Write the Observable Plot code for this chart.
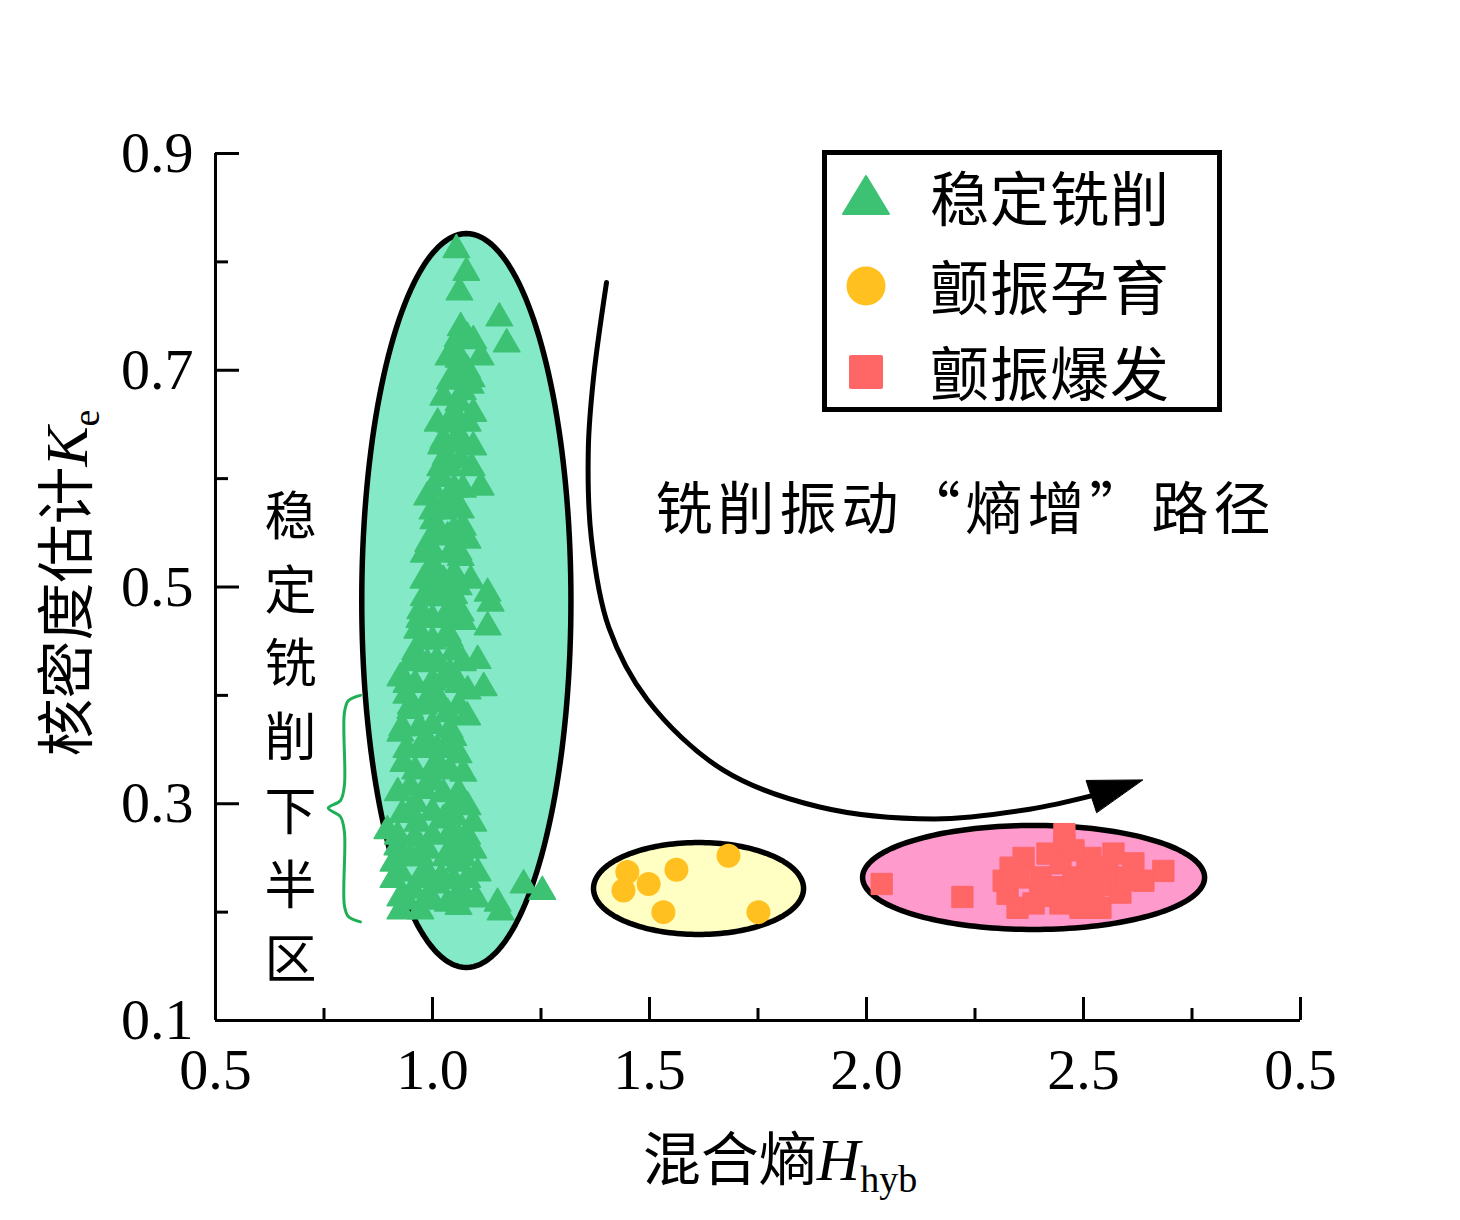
<!DOCTYPE html>
<html><head><meta charset="utf-8">
<script src="https://cdn.jsdelivr.net/npm/d3@7"></script>
<script src="https://cdn.jsdelivr.net/npm/@observablehq/plot@0.6"></script>
<style>
body{margin:0;background:#fff;}
#wrap{position:relative;width:1460px;height:1220px;background:#fff;}
#wrap svg{position:absolute;left:0;top:0;}
.cjk{font-family:"Noto Sans CJK SC",sans-serif;}
.ser{font-family:"Liberation Serif","Times New Roman",serif;}
#legend{position:absolute;left:822px;top:150px;width:400px;height:262px;box-sizing:border-box;border:5px solid #000;background:#fff;}
#legend .sym{position:absolute;left:14px;width:50px;height:50px;}
#legend .lab{position:absolute;left:103px;font-size:59px;line-height:1;transform:translateY(-50%);white-space:nowrap;color:#000;letter-spacing:1px;}
.title{position:absolute;white-space:nowrap;color:#000;font-size:58px;line-height:1;}
.title .it{font-family:"Liberation Serif",serif;font-style:italic;font-size:60px;}
.title .sub{font-family:"Liberation Serif",serif;font-size:38px;position:relative;top:12px;}
</style>
</head><body>
<div id="wrap"></div>
<script>
// ---------- data ----------
const xTicks = [0.5, 1.0, 1.5, 2.0, 2.5, 3.0];
const xTickLabels = ["0.5", "1.0", "1.5", "2.0", "2.5", "0.5"];
const xMinorTicks = [0.75, 1.25, 1.75, 2.25, 2.75];
const yTicks = [0.1, 0.3, 0.5, 0.7, 0.9];
const yTickLabels = ["0.1", "0.3", "0.5", "0.7", "0.9"];
const yMinorTicks = [0.2, 0.4, 0.6, 0.8];

const seriesNames = ["稳定铣削", "颤振孕育", "颤振爆发"];

// 稳定铣削 (Hhyb, Ke)
const stable = [
[1.055,0.811],[1.078,0.790],[1.062,0.772],[1.154,0.748],[1.171,0.724],[1.065,0.739],[1.058,0.729],[1.094,0.727],
[1.037,0.712],[1.111,0.712],[1.065,0.703],[1.088,0.686],[1.025,0.675],[1.094,0.660],[1.012,0.651],[1.081,0.651],
[1.025,0.635],[1.094,0.629],[1.018,0.610],[1.065,0.617],[1.111,0.592],[0.988,0.583],[1.041,0.586],[1.065,0.571],
[1.002,0.561],[1.035,0.546],[1.081,0.543],[1.002,0.531],[1.065,0.527],[0.979,0.506],[1.025,0.506],[1.088,0.506],
[1.127,0.494],[1.025,0.494],[1.134,0.485],[0.972,0.478],[1.065,0.476],[1.127,0.463],[0.965,0.460],[1.035,0.457],
[1.104,0.432],[0.988,0.429],[0.926,0.416],[1.025,0.414],[1.118,0.407],[1.081,0.404],[0.949,0.386],[1.035,0.383],
[0.926,0.365],[1.048,0.361],[0.988,0.358],[0.933,0.337],[1.018,0.333],[1.071,0.328],[0.949,0.315],[1.025,0.309],
[1.081,0.297],[0.896,0.275],[0.965,0.282],[1.025,0.285],[1.094,0.282],[0.919,0.260],[0.988,0.257],[1.048,0.260],
[1.094,0.257],[0.926,0.236],[0.988,0.236],[1.104,0.236],[1.048,0.229],[0.926,0.213],[0.988,0.213],[1.071,0.217],
[0.926,0.201],[0.972,0.201],[1.035,0.208],[1.150,0.208],[1.210,0.225],[1.253,0.219],[1.157,0.200],
[0.950,0.250],[1.000,0.270],[1.060,0.245],[0.960,0.300],[1.000,0.320],[1.050,0.300],[0.940,0.350],[0.970,0.370],
[1.010,0.350],[0.940,0.400],[0.980,0.390],[1.000,0.400],[1.040,0.420],[1.060,0.390],[0.960,0.440],[1.000,0.450],
[1.050,0.440],[1.000,0.470],[1.040,0.480],[0.980,0.490],[1.060,0.500],[1.000,0.520],[1.040,0.530],[1.020,0.570],
[1.050,0.590],[1.030,0.620],[1.060,0.640],[1.050,0.660],[1.040,0.690],[1.070,0.680],[1.050,0.720],[1.080,0.700],
[0.955,0.220],[1.010,0.225],[1.060,0.205],[0.910,0.245],[1.080,0.270],[0.930,0.290],[1.060,0.345],[1.080,0.380],
[0.960,0.410],[1.020,0.600],[1.090,0.610],[1.070,0.555],[0.990,0.540],
[0.940,0.210],[1.000,0.210],[1.050,0.210],[1.100,0.212],[0.910,0.230],[0.970,0.230],[1.020,0.232],[1.080,0.230],
[0.930,0.250],[0.970,0.252],[1.030,0.250],[1.070,0.250],[0.920,0.270],[0.960,0.268],[1.040,0.272],[1.060,0.268],
[0.950,0.290],[1.000,0.292],[1.050,0.288],[0.920,0.310],[0.980,0.312],[1.060,0.310],[0.960,0.330],[1.000,0.332],
[1.040,0.330],[0.970,0.350],[1.030,0.352],[0.930,0.370],[1.000,0.372],[1.040,0.368],[0.950,0.390],[1.020,0.392],
[0.940,0.410],[1.000,0.412],[1.060,0.410],[0.950,0.430],[1.010,0.432],[1.070,0.430],[0.980,0.450],[1.040,0.452],
[0.970,0.470],[1.030,0.470],[1.070,0.468],[1.000,0.490],[1.050,0.492],[1.000,0.510],[1.050,0.512],[0.980,0.530],
[1.060,0.532],[1.010,0.550],[1.050,0.552],[1.000,0.570],[1.040,0.572],[1.000,0.590],[1.070,0.590],[1.040,0.610],
[1.020,0.630],[1.070,0.632],[1.040,0.650],[1.060,0.670],[1.060,0.690],[1.090,0.692],[1.060,0.710],[1.080,0.730]
];
// 颤振孕育
const incubation = [
[1.449,0.237],[1.440,0.220],[1.498,0.226],[1.562,0.239],[1.682,0.252],[1.532,0.200],[1.751,0.200]
];
// 颤振爆发
const outbreak = [
[2.035,0.226],[2.221,0.214],[2.456,0.272],[2.456,0.260],[2.332,0.241],[2.362,0.250],[2.325,0.217],[2.348,0.204],
[2.385,0.208],[2.401,0.232],[2.447,0.245],[2.463,0.214],[2.493,0.204],[2.516,0.250],[2.523,0.223],[2.569,0.254],
[2.578,0.232],[2.615,0.245],[2.638,0.229],[2.684,0.238],[2.431,0.223],[2.477,0.232],[2.539,0.204],[2.585,0.218],
[2.417,0.254],[2.316,0.229],[2.447,0.208],[2.509,0.238],[2.555,0.241],[2.477,0.257],[2.350,0.232],[2.400,0.215],
[2.500,0.220],[2.540,0.225],[2.600,0.230]
];

// region ellipses: centre x, centre y, half-width, half-height (data units)
const ellipseCX = [1.078, 1.613, 2.385];
const ellipseCY = [0.4875, 0.2218, 0.232];
const ellipseRX = [0.241, 0.242, 0.394];
const ellipseRY = [0.3386, 0.0424, 0.048];

// "entropy increase" path and its arrow head
const pathX = [1.401, 1.371, 1.359, 1.366, 1.406, 1.495, 1.670, 1.892, 2.157, 2.376, 2.525];
const pathY = [0.781, 0.693, 0.627, 0.545, 0.463, 0.396, 0.331, 0.297, 0.286, 0.295, 0.308];
const headX = [2.636, 2.506, 2.530];
const headY = [0.322, 0.3215, 0.292];

// brace beside the lower half
const braceX = [0.834, 0.806, 0.797, 0.797, 0.788, 0.760, 0.788, 0.797, 0.797, 0.806, 0.834];
const braceY = [0.400, 0.395, 0.384, 0.317, 0.303, 0.296, 0.288, 0.274, 0.206, 0.196, 0.191];

const pathLabel = "铣削振动“熵增”路径";
const sideLabel = "稳定铣削下半区";

// ---------- styles ----------
const colors = {stable: "#3DC274", incubation: "#FFC020", outbreak: "#FF6666"};
const ellipseFill = ["#84E9C7", "#FFFFC4", "#FF9ACD"];
const cjk = "Noto Sans CJK SC";
const serif = "Liberation Serif";

const W = 1460, H = 1220, mt = 153, mr = 160, mb = 200, ml = 215;
const plotW = W - ml - mr, plotH = H - mt - mb;

function ellipsePoints(i) {
  const pts = [];
  for (let k = 0; k < 180; k++) {
    const t = (k / 180) * 2 * Math.PI;
    pts.push({x: ellipseCX[i] + ellipseRX[i] * Math.cos(t), y: ellipseCY[i] + ellipseRY[i] * Math.sin(t)});
  }
  return pts;
}
const toXY = (a) => a.map(([x, y]) => ({x, y}));
const pathPts = pathX.map((x, i) => ({x, y: pathY[i]}));
const headPts = headX.map((x, i) => ({x, y: headY[i]}));
const bracePts = braceX.map((x, i) => ({x, y: braceY[i]}));

const chart = Plot.plot({
  width: W, height: H,
  marginTop: mt, marginRight: mr, marginBottom: mb, marginLeft: ml,
  x: {domain: [0.5, 3.0], axis: null},
  y: {domain: [0.1, 0.9], axis: null},
  style: {background: "transparent", overflow: "visible"},
  marks: [
    ...[0, 1, 2].map((i) => Plot.line(ellipsePoints(i), {x: "x", y: "y", curve: "linear-closed", fill: ellipseFill[i], stroke: "#000", strokeWidth: 5.5})),
    Plot.line(pathPts, {x: "x", y: "y", curve: "catmull-rom", stroke: "#000", strokeWidth: 5}),
    Plot.line(headPts, {x: "x", y: "y", curve: "linear-closed", fill: "#000", stroke: "#000", strokeWidth: 1}),
    Plot.dot(toXY(stable), {x: "x", y: "y", symbol: "triangle", r: 9.8, fill: colors.stable, stroke: colors.stable, strokeWidth: 1.5, strokeLinejoin: "round"}),
    Plot.dot(toXY(incubation), {x: "x", y: "y", symbol: "circle", r: 12, fill: colors.incubation}),
    Plot.dot(toXY(outbreak), {x: "x", y: "y", symbol: "square", r: 12, fill: colors.outbreak, stroke: colors.outbreak, strokeWidth: 1, strokeLinejoin: "round"}),
    Plot.line(bracePts, {x: "x", y: "y", curve: "catmull-rom", stroke: "#1FAF55", strokeWidth: 3}),
    Plot.text([pathLabel], {x: () => 1.514, y: () => 0.5706, text: (d) => d, textAnchor: "start", fontSize: 57, fontFamily: cjk, fill: "#000"}),
    Plot.text([sideLabel.split("").join("\n")], {x: () => 0.673, y: () => 0.3657, text: (d) => d, textAnchor: "middle", lineAnchor: "middle", lineHeight: 1.42, fontSize: 52, fontFamily: cjk, fill: "#000"}),
    // axes
    Plot.ruleX([0.5], {stroke: "#000", strokeWidth: 3}),
    Plot.ruleY([0.1], {stroke: "#000", strokeWidth: 3}),
    Plot.tickX(xTicks, {x: (d) => d, insetTop: plotH - 23, stroke: "#000", strokeWidth: 3}),
    Plot.tickX(xMinorTicks, {x: (d) => d, insetTop: plotH - 12, stroke: "#000", strokeWidth: 3}),
    Plot.tickY(yTicks, {y: (d) => d, insetRight: plotW - 24, stroke: "#000", strokeWidth: 3}),
    Plot.tickY(yMinorTicks, {y: (d) => d, insetRight: plotW - 13, stroke: "#000", strokeWidth: 3}),
    Plot.text(xTicks, {x: (d) => d, frameAnchor: "bottom", dy: 50, text: (d, i) => xTickLabels[i], textAnchor: "middle", lineAnchor: "middle", fontSize: 58, fontFamily: serif, fill: "#000"}),
    Plot.text(yTicks, {y: (d) => d, frameAnchor: "left", dx: -22, text: (d, i) => yTickLabels[i], textAnchor: "end", lineAnchor: "middle", fontSize: 58, fontFamily: serif, fill: "#000"})
  ]
});

// widen the path label like the reference's full-width quotes
d3.select(chart).selectAll("text").filter(function () { return this.textContent === pathLabel; })
  .style("letter-spacing", "5px").style("font-feature-settings", "'fwid'");

const wrap = document.getElementById("wrap");
wrap.appendChild(chart);

// legend
const legend = document.createElement("div");
legend.id = "legend";
const rowY = [42, 131, 217];
const symSvg = [
  `<svg class="sym" viewBox="-25 -25 50 50"><path d="M0,-19 L23,19 L-23,19 Z" fill="${colors.stable}" stroke="${colors.stable}" stroke-width="2" stroke-linejoin="round" transform="translate(0,-2)"/></svg>`,
  `<svg class="sym" viewBox="-25 -25 50 50"><circle r="19.5" fill="${colors.incubation}"/></svg>`,
  `<svg class="sym" viewBox="-25 -25 50 50"><rect x="-17" y="-17" width="34" height="34" rx="2" fill="${colors.outbreak}"/></svg>`
];
seriesNames.forEach((name, i) => {
  legend.insertAdjacentHTML("beforeend",
    symSvg[i].replace('class="sym"', `class="sym" style="top:${rowY[i] - 25}px"`) +
    `<div class="lab cjk" style="top:${rowY[i] - 2}px">${name}</div>`);
});
wrap.appendChild(legend);

// axis titles
const xt = document.createElement("div");
xt.className = "title";
xt.style.left = "780px"; xt.style.top = "1158px"; xt.style.transform = "translate(-50%,-50%)";
xt.innerHTML = `<span class="cjk">混合熵</span><span class="it">H</span><span class="sub">hyb</span>`;
wrap.appendChild(xt);

const yt = document.createElement("div");
yt.className = "title";
yt.style.left = "65px"; yt.style.top = "583px"; yt.style.transform = "translate(-50%,-50%) rotate(-90deg)";
yt.innerHTML = `<span class="cjk">核密度估计</span><span class="it">K</span><span class="sub">e</span>`;
wrap.appendChild(yt);
</script>
</body></html>
